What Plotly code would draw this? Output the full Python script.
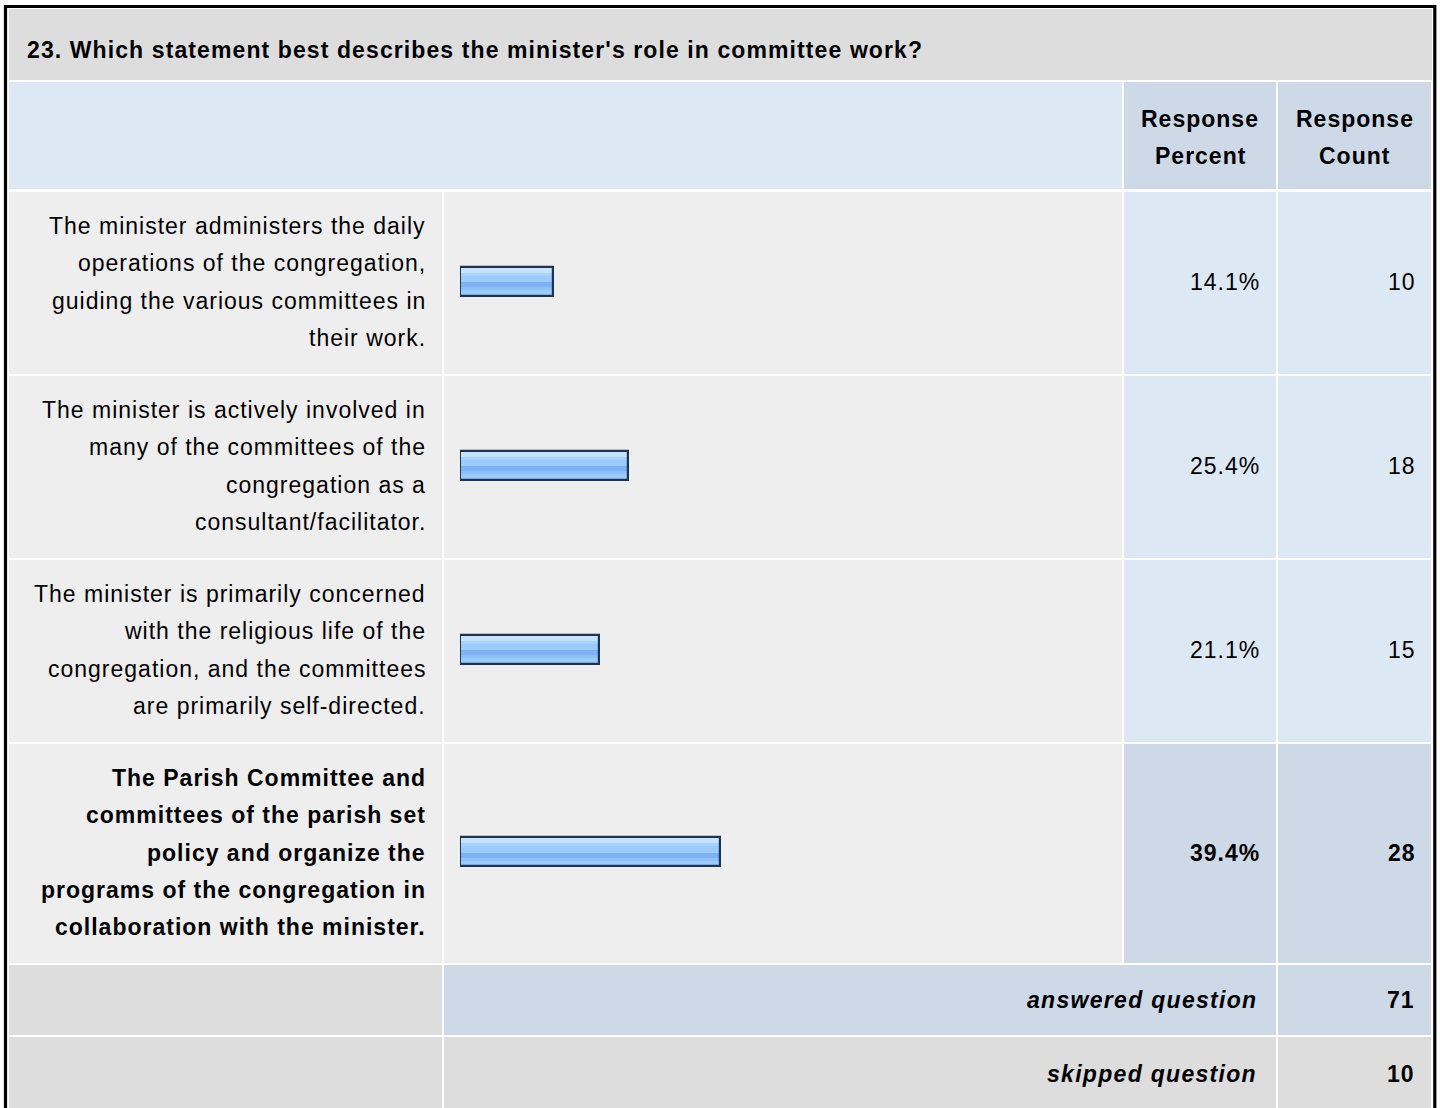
import plotly.graph_objects as go

# ---------------- data ----------------
question = "23. Which statement best describes the minister's role in committee work?"
col_headers = ["Response<br>Percent", "Response<br>Count"]
answer_labels = [
    "The minister administers the daily<br>operations of the congregation,<br>guiding the various committees in<br>their work.",
    "The minister is actively involved in<br>many of the committees of the<br>congregation as a<br>consultant/facilitator.",
    "The minister is primarily concerned<br>with the religious life of the<br>congregation, and the committees<br>are primarily self-directed.",
    "The Parish Committee and<br>committees of the parish set<br>policy and organize the<br>programs of the congregation in<br>collaboration with the minister.",
]
response_percent = [14.1, 25.4, 21.1, 39.4]
response_count = [10, 18, 15, 28]
summary_labels = ["answered question", "skipped question"]
summary_values = [71, 10]

# ---------------- layout geometry (pixels) ----------------
W, H = 1440, 1108
COLS = [(9, 442), (444, 1122), (1124, 1276), (1278, 1431)]
TITLE_ROW = (9, 80)
HEADER_ROW = (82, 189)
ANSWER_ROWS = [(192, 374), (376, 558), (560, 742), (744, 963)]
SUMMARY_ROWS = [(965, 1035), (1037, 1112)]
BAR_X0, BAR_X1 = 460, 1120
LINE_PITCH = 37.4

FONT = "Liberation Sans, Arial, Helvetica, sans-serif"
FS = 23
LS = 1.0
TXT = "#000000"

GRAY = "#dddddd"
LIGHT = "#eeeeee"
BLUE = "#dde8f5"
BLUE2 = "#cdd9e6"


def px(x):
    return x / W


def py(y):
    return 1 - y / H


shapes = []


def rect(x0, x1, y0, y1, color):
    shapes.append(dict(type="rect", xref="paper", yref="paper",
                       x0=px(x0), x1=px(x1), y0=py(y1), y1=py(y0),
                       fillcolor=color, line=dict(width=0), layer="below"))


annotations = []


def spaced(s, ls):
    return f'<span style="letter-spacing:{ls}px">{s}</span>'


def text(x, y, s, anchor="right", bold=False, italic=False, ls=LS):
    t = spaced(s, ls)
    if italic:
        t = f"<i>{t}</i>"
    if bold:
        t = f"<b>{t}</b>"
    annotations.append(dict(xref="paper", yref="paper", x=px(x), y=py(y), text=t,
                            showarrow=False, xanchor=anchor, yanchor="middle",
                            align=anchor, borderpad=0,
                            font=dict(family=FONT, size=FS, color=TXT)))


def multiline(x, ycenter, s, anchor="right", bold=False):
    lines = s.split("<br>")
    n = len(lines)
    for i, ln in enumerate(lines):
        y = ycenter + (i - (n - 1) / 2) * LINE_PITCH
        text(x, y, ln, anchor=anchor, bold=bold)


# outer border
shapes.append(dict(type="rect", xref="paper", yref="paper",
                   x0=px(5.5), x1=px(1434.8), y0=py(1120), y1=py(6.5),
                   line=dict(color="#000000", width=3.2), fillcolor="rgba(0,0,0,0)",
                   layer="below"))

# title row
rect(9, 1432, TITLE_ROW[0], TITLE_ROW[1], GRAY)
text(26, 50, question, anchor="left", bold=True, ls=1.1)

# header row
rect(COLS[0][0], COLS[1][1], HEADER_ROW[0], HEADER_ROW[1], BLUE)
for (c0, c1), h in zip(COLS[2:], col_headers):
    rect(c0, c1, HEADER_ROW[0], HEADER_ROW[1], BLUE2)
    multiline((c0 + c1) / 2, (HEADER_ROW[0] + HEADER_ROW[1]) / 2 + 2, h,
              anchor="center", bold=True)

# answer rows
max_pct = max(response_percent)
for (r0, r1), lab, pct, cnt in zip(ANSWER_ROWS, answer_labels, response_percent, response_count):
    top = pct == max_pct
    rect(COLS[0][0], COLS[0][1], r0, r1, LIGHT)
    rect(COLS[1][0], COLS[1][1], r0, r1, LIGHT)
    rect(COLS[2][0], COLS[2][1], r0, r1, BLUE2 if top else BLUE)
    rect(COLS[3][0], COLS[3][1], r0, r1, BLUE2 if top else BLUE)
    yc = (r0 + r1) / 2 - 1
    multiline(COLS[0][1] - 15, yc, lab, bold=top)
    text(COLS[2][1] - 15, yc, f"{pct:.1f}%", bold=top)
    text(COLS[3][1] - 14, yc, f"{cnt}", bold=top)

# summary rows
(a0, a1), (s0, s1) = SUMMARY_ROWS
rect(COLS[0][0], COLS[0][1], a0, a1, GRAY)
rect(COLS[1][0], COLS[2][1], a0, a1, BLUE2)
rect(COLS[3][0], COLS[3][1], a0, a1, BLUE2)
rect(COLS[0][0], COLS[0][1], s0, s1, GRAY)
rect(COLS[1][0], COLS[2][1], s0, s1, GRAY)
rect(COLS[3][0], COLS[3][1], s0, s1, GRAY)
for (r0, r1), lab, val in zip(SUMMARY_ROWS, summary_labels, summary_values):
    yc = (r0 + r1) / 2 - 0.5
    text(COLS[2][1] - 18, yc, lab, bold=True, italic=True, ls=1.3)
    text(COLS[3][1] - 15, yc, f"{val}", bold=True)

# ---------------- bars ----------------
bar_y = [(r0 + r1) / 2 - 2 for r0, r1 in ANSWER_ROWS]
BAR_H = 29

fig = go.Figure()
common = dict(x=response_percent, y=bar_y, orientation="h", hoverinfo="skip",
              xaxis="x", yaxis="y", showlegend=False)
# base fill
fig.add_trace(go.Bar(**common, width=BAR_H, offset=-BAR_H / 2,
                     marker=dict(color="#9ccbff", line=dict(width=0))))
# top highlight
fig.add_trace(go.Bar(**common, width=5, offset=-BAR_H / 2 + 1,
                     marker=dict(color="#c6e2ff", line=dict(width=0))))
fig.add_trace(go.Bar(**common, width=3, offset=-BAR_H / 2 + 6,
                     marker=dict(color="#a9d4ff", line=dict(width=0))))
# darker middle band
fig.add_trace(go.Bar(**common, width=5, offset=1,
                     marker=dict(color="#7fb2f4", line=dict(width=0))))
fig.add_trace(go.Bar(**common, width=3, offset=6,
                     marker=dict(color="#8ec0fb", line=dict(width=0))))
# outline
fig.add_trace(go.Bar(**common, width=BAR_H, offset=-BAR_H / 2,
                     marker=dict(color="rgba(0,0,0,0)", line=dict(color="#1c3555", width=2.2))))

fig.update_layout(
    width=W, height=H,
    margin=dict(l=0, r=0, t=0, b=0),
    paper_bgcolor="#ffffff", plot_bgcolor="rgba(0,0,0,0)",
    barmode="overlay",
    bargap=0,
    xaxis=dict(domain=[px(BAR_X0), px(BAR_X1)], range=[0, 100], visible=False,
               fixedrange=True),
    yaxis=dict(domain=[0, 1], range=[H, 0], visible=False, fixedrange=True),
    shapes=shapes,
    annotations=annotations,
    font=dict(family=FONT, size=FS, color=TXT),
)

fig.write_html("out.html", config={"displayModeBar": False},
               post_script="document.body.style.margin='0';document.body.style.overflow='hidden';")
